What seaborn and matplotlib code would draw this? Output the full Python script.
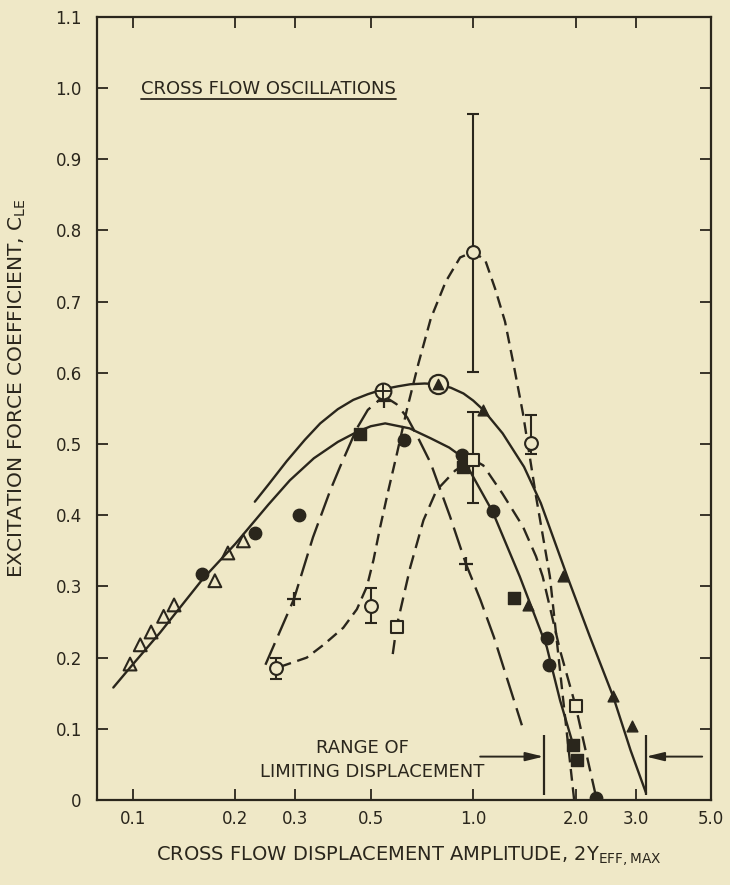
import matplotlib
matplotlib.use("Agg")
import matplotlib.pyplot as plt
from matplotlib.ticker import NullLocator
import seaborn as sns

# ---- traced curves ----
# upper solid curve (through the circled markers)
upper_x = [0.228, 0.25, 0.283, 0.32, 0.355, 0.40, 0.444, 0.49, 0.544, 0.60, 0.654, 0.72, 0.787, 0.86, 0.936, 1.0,
           1.07, 1.22, 1.41, 1.58, 1.80, 1.89, 2.2, 2.58, 2.9, 3.22]
upper_y = [0.419, 0.443, 0.476, 0.506, 0.529, 0.549, 0.562, 0.570, 0.577, 0.581, 0.584, 0.585, 0.584, 0.579, 0.571,
           0.561, 0.548, 0.515, 0.468, 0.417, 0.342, 0.314, 0.23, 0.145, 0.07, 0.01]

# lower solid curve
lower_x = [0.0875, 0.098, 0.12, 0.16, 0.20, 0.25, 0.289, 0.34, 0.40, 0.455, 0.50, 0.551, 0.65, 0.75, 0.85, 0.927,
           1.14, 1.37, 1.645, 1.80, 1.96]
lower_y = [0.158, 0.186, 0.235, 0.31, 0.36, 0.415, 0.449, 0.48, 0.503, 0.517, 0.525, 0.529, 0.522, 0.508, 0.495, 0.482,
           0.405, 0.314, 0.215, 0.14, 0.08]

# long dash curve (+ symbols)
plus_curve_x = [0.245, 0.297, 0.338, 0.38, 0.406, 0.455, 0.49, 0.53, 0.56, 0.595, 0.64, 0.683, 0.75, 0.855, 0.953,
                1.05, 1.15, 1.39]
plus_curve_y = [0.19, 0.282, 0.369, 0.435, 0.468, 0.522, 0.548, 0.562, 0.564, 0.556, 0.537, 0.512, 0.473, 0.398, 0.331,
                0.281, 0.229, 0.105]

# dashed curve through the open circles
circ_curve_x = [0.27, 0.324, 0.363, 0.415, 0.455, 0.487, 0.509, 0.533, 0.563, 0.597, 0.638, 0.69, 0.75, 0.83,
                0.915, 1.0, 1.085, 1.16, 1.24, 1.32, 1.40, 1.53, 1.68, 1.82, 1.98]
circ_curve_y = [0.187, 0.20, 0.218, 0.242, 0.268, 0.30, 0.337, 0.384, 0.435, 0.487, 0.548, 0.613, 0.676, 0.728,
                0.762, 0.77, 0.758, 0.718, 0.672, 0.607, 0.543, 0.426, 0.314, 0.16, 0.0]

# dashed curve through the open squares
sq_curve_x = [0.58, 0.595, 0.653, 0.714, 0.78, 0.886, 1.0, 1.07, 1.22, 1.40, 1.53, 1.60, 1.8, 2.0, 2.3]
sq_curve_y = [0.205, 0.243, 0.327, 0.393, 0.435, 0.463, 0.478, 0.47, 0.43, 0.384, 0.342, 0.314, 0.21, 0.132, 0.003]

# ---- data points ----
open_tri_x = [0.098, 0.105, 0.113, 0.123, 0.132, 0.174, 0.190, 0.211]
open_tri_y = [0.191, 0.218, 0.236, 0.258, 0.274, 0.308, 0.347, 0.364]

filled_circ_x = [0.16, 0.228, 0.308, 0.624, 0.927, 1.14, 1.645, 1.675, 2.3]
filled_circ_y = [0.318, 0.375, 0.401, 0.506, 0.485, 0.406, 0.228, 0.19, 0.003]

filled_sq_x = [0.465, 0.935, 1.32, 1.96, 2.02]
filled_sq_y = [0.514, 0.468, 0.284, 0.078, 0.056]

filled_tri_x = [1.07, 1.45, 1.84, 2.58, 2.92]
filled_tri_y = [0.548, 0.274, 0.314, 0.146, 0.104]

plus_x = [0.297, 0.548, 0.953]
plus_y = [0.282, 0.561, 0.331]

open_circ_x = [0.263, 0.5, 1.0, 1.48]
open_circ_y = [0.186, 0.272, 0.770, 0.502]
open_circ_lo = [0.17, 0.248, 0.601, 0.486]
open_circ_hi = [0.20, 0.298, 0.963, 0.541]

open_sq_x = [0.598, 1.0, 2.0]
open_sq_y = [0.243, 0.478, 0.132]
sq_err_x = [1.0]
sq_err_y = [0.478]
sq_err_lo = [0.417]
sq_err_hi = [0.545]

cross_circ_x = [0.544]
cross_circ_y = [0.575]
ring_tri_x = [0.787]
ring_tri_y = [0.584]

# range of limiting displacement
range_bounds = [1.61, 3.22]
range_arrow_from = [1.048, 4.71]
range_arrow_y = 0.061

x_ticks = [0.1, 0.2, 0.3, 0.5, 1.0, 2.0, 3.0, 5.0]
x_ticklabels = ["0.1", "0.2", "0.3", "0.5", "1.0", "2.0", "3.0", "5.0"]
y_ticks = [0, 0.1, 0.2, 0.3, 0.4, 0.5, 0.6, 0.7, 0.8, 0.9, 1.0, 1.1]
y_ticklabels = ["0", "0.1", "0.2", "0.3", "0.4", "0.5", "0.6", "0.7", "0.8", "0.9", "1.0", "1.1"]

BG = "#efe8c7"
INK = "#2a261c"

sns.set_theme(style="ticks")
plt.rcParams["font.family"] = ["DejaVu Sans"]

fig = plt.figure(figsize=(7.3, 8.85), dpi=100, facecolor=BG)
ax = fig.add_axes([0.133, 0.096, 0.841, 0.885])
ax.set_facecolor(BG)
ax.set_xscale("log")

# curves
sns.lineplot(x=upper_x, y=upper_y, ax=ax, sort=False, estimator=None, color=INK, lw=1.7)
sns.lineplot(x=lower_x, y=lower_y, ax=ax, sort=False, estimator=None, color=INK, lw=1.7)
sns.lineplot(x=plus_curve_x, y=plus_curve_y, ax=ax, sort=False, estimator=None, color=INK, lw=1.7,
             linestyle=(0, (10, 3.5)))
sns.lineplot(x=circ_curve_x, y=circ_curve_y, ax=ax, sort=False, estimator=None, color=INK, lw=1.7,
             linestyle=(0, (5, 2.8)))
sns.lineplot(x=sq_curve_x, y=sq_curve_y, ax=ax, sort=False, estimator=None, color=INK, lw=1.7,
             linestyle=(0, (6, 3.2)))

# error bars
ax.errorbar(open_circ_x, open_circ_y,
            yerr=[[y - lo for y, lo in zip(open_circ_y, open_circ_lo)],
                  [hi - y for y, hi in zip(open_circ_y, open_circ_hi)]],
            fmt="none", ecolor=INK, elinewidth=1.5, capsize=4, capthick=1.5, zorder=3)
ax.errorbar(sq_err_x, sq_err_y,
            yerr=[[y - lo for y, lo in zip(sq_err_y, sq_err_lo)],
                  [hi - y for y, hi in zip(sq_err_y, sq_err_hi)]],
            fmt="none", ecolor=INK, elinewidth=1.5, capsize=4, capthick=1.5, zorder=3)

# markers
sns.scatterplot(x=open_tri_x, y=open_tri_y, ax=ax, marker="^", s=85, facecolors="none",
                edgecolors=INK, linewidth=1.5, zorder=4)
sns.scatterplot(x=filled_circ_x, y=filled_circ_y, ax=ax, marker="o", s=80, color=INK,
                edgecolors=INK, linewidth=1, zorder=4)
sns.scatterplot(x=filled_sq_x, y=filled_sq_y, ax=ax, marker="s", s=65, color=INK,
                edgecolors=INK, linewidth=1, zorder=4)
sns.scatterplot(x=filled_tri_x, y=filled_tri_y, ax=ax, marker="^", s=60, color=INK,
                edgecolors=INK, linewidth=1, zorder=4)
sns.scatterplot(x=plus_x, y=plus_y, ax=ax, marker="+", s=110, color=INK, linewidth=1.6, zorder=4)
sns.scatterplot(x=open_circ_x, y=open_circ_y, ax=ax, marker="o", s=85, facecolors=BG,
                edgecolors=INK, linewidth=1.5, zorder=5)
sns.scatterplot(x=open_sq_x, y=open_sq_y, ax=ax, marker="s", s=85, facecolors=BG,
                edgecolors=INK, linewidth=1.5, zorder=5)
sns.scatterplot(x=cross_circ_x, y=cross_circ_y, ax=ax, marker="o", s=130, facecolors=BG,
                edgecolors=INK, linewidth=1.5, zorder=5)
sns.scatterplot(x=cross_circ_x, y=cross_circ_y, ax=ax, marker="+", s=130, color=INK,
                linewidth=1.4, zorder=6)
sns.scatterplot(x=ring_tri_x, y=ring_tri_y, ax=ax, marker="o", s=190, facecolors=BG,
                edgecolors=INK, linewidth=1.6, zorder=5)
sns.scatterplot(x=ring_tri_x, y=ring_tri_y, ax=ax, marker="^", s=55, color=INK,
                edgecolors=INK, linewidth=1, zorder=6)

# range of limiting displacement
ax.vlines(range_bounds, 0.007, 0.092, color=INK, lw=1.6)
for x0, x1 in zip(range_arrow_from, range_bounds):
    ax.annotate("", xy=(x1, range_arrow_y), xytext=(x0, range_arrow_y),
                arrowprops=dict(arrowstyle="-|>,head_length=0.9,head_width=0.22",
                                color=INK, lw=1.4, shrinkA=0, shrinkB=0))
ax.text(0.473, 0.073, "RANGE OF", ha="center", va="center", fontsize=13, color=INK)
ax.text(0.506, 0.039, "LIMITING DISPLACEMENT", ha="center", va="center", fontsize=13, color=INK)

# axes
ax.set_xlim(0.0784, 5.0)
ax.set_ylim(0, 1.1)
ax.set_xticks(x_ticks)
ax.set_xticklabels(x_ticklabels)
ax.xaxis.set_minor_locator(NullLocator())
ax.set_yticks(y_ticks)
ax.set_yticklabels(y_ticklabels)
ax.tick_params(axis="both", direction="in", top=True, right=True, length=8, width=1.3,
               labelsize=12, colors=INK)
ax.tick_params(axis="y", pad=11)
ax.tick_params(axis="x", pad=7)
for sp in ax.spines.values():
    sp.set_linewidth(1.6)
    sp.set_color(INK)

ax.set_xlabel("CROSS FLOW DISPLACEMENT AMPLITUDE, 2Y$_{\\mathrm{EFF,MAX}}$", fontsize=14, color=INK)
ax.xaxis.set_label_coords(0.507, -0.056)
ax.set_ylabel("EXCITATION FORCE COEFFICIENT, C$_{\\mathrm{LE}}$", fontsize=14.5, color=INK)
ax.yaxis.set_label_coords(-0.112, 0.525)

# underlined title inside the axes
title = ax.text(0.0717, 0.901, "CROSS FLOW OSCILLATIONS", transform=ax.transAxes,
                fontsize=13, color=INK, va="baseline", ha="left")
fig.canvas.draw()
bb = title.get_window_extent().transformed(ax.transAxes.inverted())
ax.plot([bb.x0, bb.x1], [0.8955, 0.8955], transform=ax.transAxes, color=INK, lw=1.3)

fig.savefig("out.png", dpi=100, facecolor=BG)
